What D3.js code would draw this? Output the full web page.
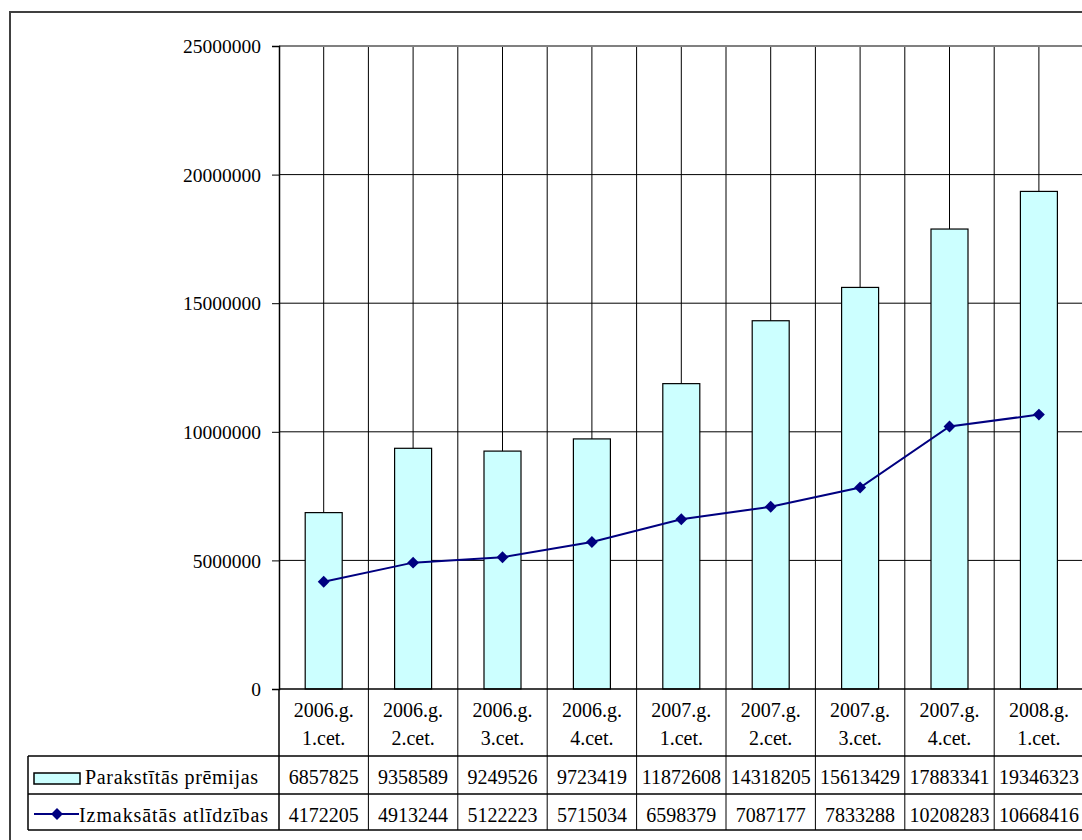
<!DOCTYPE html>
<html>
<head>
<meta charset="utf-8">
<style>
  body { margin: 0; background: #fff; }
  svg { display: block; }
  svg text { font-family: "Liberation Serif", "Times New Roman", "DejaVu Serif", serif; }
</style>
</head>
<body>
<svg width="1082" height="840"></svg>
<script src="https://d3js.org/d3.v7.min.js"></script>
<script>

var years = ["2006.g.", "2006.g.", "2006.g.", "2006.g.", "2007.g.", "2007.g.", "2007.g.", "2007.g.", "2008.g."];
var quarters = ["1.cet.", "2.cet.", "3.cet.", "4.cet.", "1.cet.", "2.cet.", "3.cet.", "4.cet.", "1.cet."];
var premiums = [6857825, 9358589, 9249526, 9723419, 11872608, 14318205, 15613429, 17883341, 19346323];
var claims = [4172205, 4913244, 5122223, 5715034, 6598379, 7087177, 7833288, 10208283, 10668416];
var yTicks = [0, 5000000, 10000000, 15000000, 20000000, 25000000];
var seriesNames = ["Parakstītās prēmijas", "Izmaksātās atlīdzības"];

var svg = d3.select("svg");

var plotLeft = 279, plotRight = 1083.6, plotTop = 46, plotBottom = 689,
    tableLeft = 28, rowTop = 756, rowMid = 794, rowBottom = 830;

var idx = d3.range(years.length);

var x = d3.scaleBand().domain(idx).range([plotLeft, plotRight]).padding(0);
var y = d3.scaleLinear().domain([0, 25000000]).range([plotBottom, plotTop]);
var bw = x.bandwidth();

// outer frame (runs off the right and bottom edges)
svg.append("rect")
    .attr("x", 10).attr("y", 12)
    .attr("width", 1200).attr("height", 1000)
    .attr("fill", "none").attr("stroke", "#404040").attr("stroke-width", 2);

var grid = svg.append("g");

// horizontal gridlines
grid.selectAll("line.h")
  .data(yTicks.filter(function(d) { return d > 0 && d < 25000000; }))
  .enter().append("line")
    .attr("x1", plotLeft).attr("x2", plotRight + 5)
    .attr("y1", function(d) { return y(d); }).attr("y2", function(d) { return y(d); })
    .attr("stroke", "#000").attr("stroke-width", 1);

// vertical gridlines: category centers
grid.selectAll("line.c")
  .data(idx)
  .enter().append("line")
    .attr("x1", function(d) { return x(d) + bw / 2; })
    .attr("x2", function(d) { return x(d) + bw / 2; })
    .attr("y1", plotTop).attr("y2", plotBottom)
    .attr("stroke", "#000").attr("stroke-width", 1);

// vertical lines: category boundaries, running down through the table
grid.selectAll("line.b")
  .data(idx.slice(1).concat([idx.length]))
  .enter().append("line")
    .attr("x1", function(d) { return plotLeft + d * bw; })
    .attr("x2", function(d) { return plotLeft + d * bw; })
    .attr("y1", plotTop).attr("y2", rowBottom)
    .attr("stroke", "#000").attr("stroke-width", 1);

// plot top border
svg.append("line")
    .attr("x1", plotLeft).attr("x2", plotRight + 5).attr("y1", plotTop).attr("y2", plotTop)
    .attr("stroke", "#808080").attr("stroke-width", 2);

// bars
svg.selectAll("rect.bar")
  .data(premiums)
  .enter().append("rect")
    .attr("class", "bar")
    .attr("x", function(d, i) { return x(i) + bw / 2 - 18.5; })
    .attr("width", 37)
    .attr("y", function(d) { return y(d); })
    .attr("height", function(d) { return y(0) - y(d); })
    .attr("fill", "#ccffff").attr("stroke", "#000").attr("stroke-width", 1.2);

// y axis
var yAxis = svg.append("g")
    .attr("transform", "translate(" + plotLeft + ",0)")
    .call(d3.axisLeft(y).tickValues(yTicks).tickSize(7).tickPadding(11).tickFormat(d3.format("d")));
yAxis.attr("font-family", null).attr("font-size", null);
yAxis.select(".domain").attr("stroke", "#000").attr("stroke-width", 1.5);
yAxis.selectAll(".tick line").attr("stroke", "#000");
yAxis.selectAll("text")
    .attr("font-size", 19.5).attr("fill", "#000").attr("dy", "0.34em");

// x axis line
svg.append("line")
    .attr("x1", plotLeft).attr("x2", plotRight + 5).attr("y1", plotBottom).attr("y2", plotBottom)
    .attr("stroke", "#000").attr("stroke-width", 1.5);

// claims line
var line = d3.line()
    .x(function(d, i) { return x(i) + bw / 2; })
    .y(function(d) { return y(d); });

svg.append("path")
    .datum(claims)
    .attr("d", line)
    .attr("fill", "none").attr("stroke", "#000080").attr("stroke-width", 2);

var diamond = d3.symbol().type(d3.symbolDiamond2).size(90);
svg.selectAll("path.mark")
  .data(claims)
  .enter().append("path")
    .attr("class", "mark")
    .attr("d", diamond)
    .attr("transform", function(d, i) { return "translate(" + (x(i) + bw / 2) + "," + y(d) + ")"; })
    .attr("fill", "#000080");

// data table
var table = svg.append("g").attr("font-size", 20).attr("fill", "#000");

[rowTop, rowMid, rowBottom].forEach(function(yy) {
  table.append("line")
      .attr("x1", tableLeft).attr("x2", plotRight + 5).attr("y1", yy).attr("y2", yy)
      .attr("stroke", "#000").attr("stroke-width", 1.5);
});
table.append("line")
    .attr("x1", tableLeft).attr("x2", tableLeft).attr("y1", rowTop).attr("y2", rowBottom)
    .attr("stroke", "#000").attr("stroke-width", 1.5);
table.append("line")
    .attr("x1", plotLeft).attr("x2", plotLeft).attr("y1", plotBottom).attr("y2", rowBottom)
    .attr("stroke", "#000").attr("stroke-width", 1.5);

table.selectAll("text.yr")
  .data(years)
  .enter().append("text")
    .attr("x", function(d, i) { return x(i) + bw / 2; })
    .attr("y", 717)
    .attr("text-anchor", "middle")
    .text(function(d) { return d; });

table.selectAll("text.q")
  .data(quarters)
  .enter().append("text")
    .attr("x", function(d, i) { return x(i) + bw / 2; })
    .attr("y", 745)
    .attr("text-anchor", "middle")
    .text(function(d) { return d; });

[premiums, claims].forEach(function(vals, r) {
  var base = r === 0 ? 784 : 822;
  table.selectAll("text.v" + r)
    .data(vals)
    .enter().append("text")
      .attr("x", function(d, i) { return x(i) + bw / 2; })
      .attr("y", base)
      .attr("text-anchor", "middle")
      .text(function(d) { return d; });

  table.append("text")
      .attr("x", r === 0 ? 85 : 79)
      .attr("y", base)
      .attr("textLength", r === 0 ? 173 : 189)
      .attr("lengthAdjust", "spacing")
      .text(seriesNames[r]);
});

// legend keys
var k1 = (rowTop + rowMid) / 2, k2 = (rowMid + rowBottom) / 2;
table.append("rect")
    .attr("x", 34).attr("y", 773).attr("width", 46).attr("height", 11)
    .attr("fill", "#ccffff").attr("stroke", "#000").attr("stroke-width", 1.5);
table.append("line")
    .attr("x1", 34).attr("x2", 79).attr("y1", 814).attr("y2", 814)
    .attr("stroke", "#000080").attr("stroke-width", 2);
table.append("path")
    .attr("d", diamond)
    .attr("transform", "translate(57,814)")
    .attr("fill", "#000080");

</script>
</body>
</html>
